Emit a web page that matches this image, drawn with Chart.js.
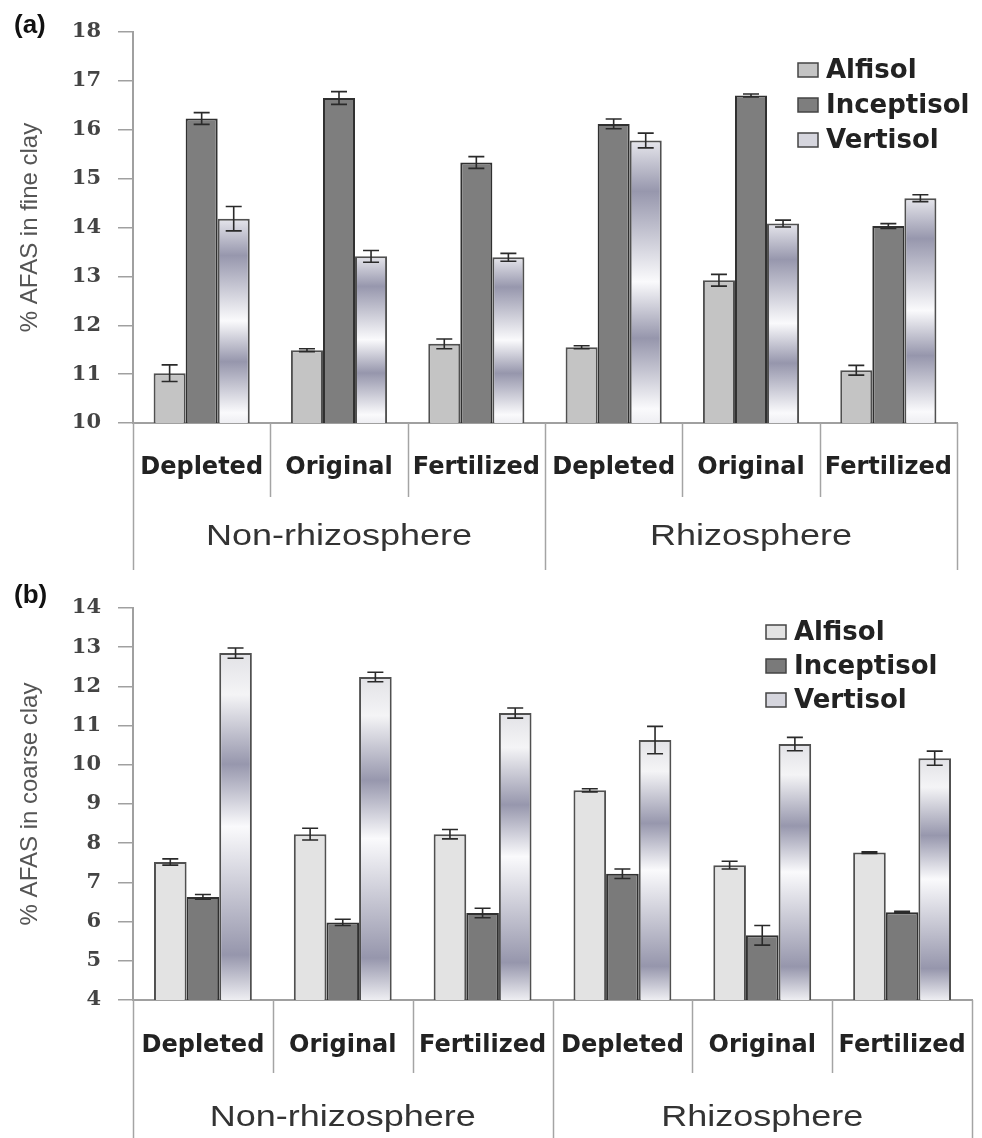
<!DOCTYPE html>
<html>
<head>
<meta charset="utf-8">
<script src="https://cdn.jsdelivr.net/npm/chart.js@4.4.0/dist/chart.umd.min.js"></script>
<style>
    body { margin: 0; background: #fff; }
    .panel { position: absolute; left: 0; width: 982px; }
    #wrapA { top: 0; height: 570px; }
    #wrapB { top: 570px; height: 568px; }
</style>
</head>
<body>
<div class="panel" id="wrapA"><canvas id="chartA"></canvas></div>
<div class="panel" id="wrapB"><canvas id="chartB"></canvas></div>
<script>
// data
const categories = ['Depleted', 'Original', 'Fertilized', 'Depleted', 'Original', 'Fertilized'];
const groups = ['Non-rhizosphere', 'Rhizosphere'];
const seriesNames = ['Alfisol', 'Inceptisol', 'Vertisol'];

const fineTicks = {min: 10, max: 18, step: 1};
const fineAlfisol = [11.02, 11.49, 11.62, 11.55, 12.92, 11.08];
const fineInceptisol = [16.23, 16.65, 15.33, 16.12, 16.70, 14.03];
const fineVertisol = [14.18, 13.41, 13.39, 15.78, 14.08, 14.60];
const fineAlfisolErr = [0.17, 0.03, 0.10, 0.03, 0.12, 0.10];
const fineInceptisolErr = [0.12, 0.13, 0.12, 0.10, 0.03, 0.05];
const fineVertisolErr = [0.25, 0.12, 0.08, 0.15, 0.07, 0.07];

const coarseTicks = {min: 4, max: 14, step: 1};
const coarseAlfisol = [7.52, 8.23, 8.23, 9.35, 7.44, 7.76];
const coarseInceptisol = [6.63, 5.98, 6.22, 7.22, 5.65, 6.24];
const coarseVertisol = [12.85, 12.24, 11.32, 10.63, 10.53, 10.17];
const coarseAlfisolErr = [0.08, 0.15, 0.12, 0.04, 0.10, 0.02];
const coarseInceptisolErr = [0.06, 0.08, 0.12, 0.12, 0.25, 0.02];
const coarseVertisolErr = [0.13, 0.12, 0.13, 0.35, 0.17, 0.18];

const groupSize = 3;

// banded silver fill used for the Vertisol bars
function ribbon(stops) {
    return function (c) {
        const chart = c.chart;
        if (!chart.chartArea || c.type !== 'data') return '#eeeef2';
        const y = chart.scales.y;
        const top = y.getPixelForValue(c.parsed.y);
        const bottom = y.getPixelForValue(y.min);
        const g = chart.ctx.createLinearGradient(0, top, 0, bottom);
        stops.forEach(s => g.addColorStop(s[0], s[1]));
        return g;
    };
}

const decorPlugin = {
    id: 'decor',
    afterDatasetsDraw(chart) {
        const ctx = chart.ctx;
        const y = chart.scales.y;
        chart.data.datasets.forEach((ds, i) => {
            chart.getDatasetMeta(i).data.forEach((bar, j) => {
                const v = ds.data[j], e = ds.errors[j];
                const yt = y.getPixelForValue(v + e), yb = y.getPixelForValue(v - e);
                ctx.save();
                ctx.strokeStyle = '#2a2a2a';
                ctx.lineWidth = 1.6;
                ctx.beginPath();
                ctx.moveTo(bar.x, yt); ctx.lineTo(bar.x, yb);
                ctx.moveTo(bar.x - 8, yt); ctx.lineTo(bar.x + 8, yt);
                ctx.moveTo(bar.x - 8, yb); ctx.lineTo(bar.x + 8, yb);
                ctx.stroke();
                ctx.restore();
            });
        });
    },
    afterDraw(chart, args, opts) {
        const ctx = chart.ctx;
        const x = chart.scales.x;
        const base = chart.chartArea.bottom;
        const step = (x.right - x.left) / categories.length;

        ctx.save();
        ctx.strokeStyle = '#a4a4a4';
        ctx.lineWidth = 1.5;
        for (let i = 0; i <= categories.length; i++) {
            const px = Math.round(x.left + i * step) + 0.5;
            ctx.beginPath();
            ctx.moveTo(px, base);
            ctx.lineTo(px, i % groupSize === 0 ? opts.groupBottom : opts.sepBottom);
            ctx.stroke();
        }

        ctx.fillStyle = '#333';
        ctx.font = '30px "Liberation Sans", Arial, sans-serif';
        ctx.textAlign = 'center';
        ctx.textBaseline = 'middle';
        groups.forEach((g, k) => {
            const cx = x.left + (k * groupSize + groupSize / 2) * step;
            ctx.save();
            ctx.translate(cx, opts.groupY);
            ctx.scale(1.2, 1);
            ctx.fillText(g, 0, 0);
            ctx.restore();
        });

        // legend
        ctx.font = 'bold 26px "DejaVu Sans", sans-serif';
        ctx.textAlign = 'left';
        chart.data.datasets.forEach((ds, i) => {
            const ly = opts.legendY + i * opts.legendStep;
            ctx.fillStyle = ds.legendFill;
            ctx.fillRect(opts.legendX, ly - 7, 20, 14);
            ctx.strokeStyle = '#444';
            ctx.lineWidth = 1.5;
            ctx.strokeRect(opts.legendX, ly - 7, 20, 14);
            ctx.fillStyle = '#222';
            ctx.fillText(ds.label, opts.legendX + 28, ly + 1);
        });

        // panel letter
        ctx.font = 'bold 26px "Liberation Sans", Arial, sans-serif';
        ctx.fillStyle = '#111';
        ctx.fillText(opts.panel, 14, opts.panelY);
        ctx.restore();
    }
};

function makeChart(id, cfg) {
    return new Chart(document.getElementById(id), {
        type: 'bar',
        data: {
            labels: categories,
            datasets: [
                {
                    label: seriesNames[0], data: cfg.values[0], errors: cfg.errors[0],
                    backgroundColor: cfg.alfisolColor, legendFill: cfg.alfisolColor,
                    borderColor: '#505050', borderWidth: 2
                },
                {
                    label: seriesNames[1], data: cfg.values[1], errors: cfg.errors[1],
                    backgroundColor: cfg.inceptisolColor, legendFill: cfg.inceptisolColor,
                    borderColor: '#303030', borderWidth: 2
                },
                {
                    label: seriesNames[2], data: cfg.values[2], errors: cfg.errors[2],
                    backgroundColor: ribbon(cfg.stops), legendFill: '#d6d6de',
                    borderColor: '#505050', borderWidth: 2
                }
            ]
        },
        options: {
            responsive: true,
            maintainAspectRatio: false,
            animation: false,
            categoryPercentage: 0.7,
            barPercentage: 1.0,
            layout: {padding: {top: cfg.top, right: cfg.right, left: 0, bottom: 0}},
            plugins: {
                legend: {display: false},
                tooltip: {enabled: false},
                decor: cfg.decor
            },
            scales: {
                x: {
                    grid: {display: false, drawTicks: false},
                    border: {display: true, color: '#a0a0a0', width: 2},
                    ticks: {
                        color: '#222', padding: 0, maxRotation: 0, autoSkip: false,
                        // tall line box pushes the label row down below the axis
                        font: {family: '"DejaVu Sans", sans-serif', size: 24, weight: 'bold', lineHeight: cfg.labelLine}
                    },
                    afterFit: s => { s.height = cfg.xHeight; }
                },
                y: {
                    min: cfg.ticks.min, max: cfg.ticks.max,
                    grid: {display: true, drawOnChartArea: false, drawTicks: true, tickLength: 15, color: '#a0a0a0', lineWidth: 1.5},
                    border: {display: true, color: '#a0a0a0', width: 2},
                    ticks: {
                        stepSize: cfg.ticks.step, color: '#444', padding: 17,
                        font: {family: '"DejaVu Serif", serif', size: 21, weight: 'bold'}
                    },
                    title: {
                        display: true, text: cfg.title, color: '#555',
                        font: {family: '"Liberation Sans", Arial, sans-serif', size: 24},
                        padding: {top: 16, bottom: 0}
                    },
                    afterFit: s => { s.width = 133; }
                }
            }
        },
        plugins: [decorPlugin]
    });
}

makeChart('chartA', {
    values: [fineAlfisol, fineInceptisol, fineVertisol],
    errors: [fineAlfisolErr, fineInceptisolErr, fineVertisolErr],
    ticks: fineTicks,
    title: '% AFAS in fine clay',
    alfisolColor: '#c4c4c4',
    inceptisolColor: '#7e7e7e',
    stops: [[0, '#e6e6ec'], [0.18, '#9797ad'], [0.5, '#fafafc'], [0.7, '#9696ac'], [0.95, '#fafafc'], [1, '#eeeef2']],
    top: 32, right: 25, xHeight: 147, labelLine: '90px',
    decor: {sepBottom: 497, groupBottom: 570, groupY: 537, legendX: 798, legendY: 70, legendStep: 35, panel: '(a)', panelY: 26}
});

makeChart('chartB', {
    values: [coarseAlfisol, coarseInceptisol, coarseVertisol],
    errors: [coarseAlfisolErr, coarseInceptisolErr, coarseVertisolErr],
    ticks: coarseTicks,
    title: '% AFAS in coarse clay',
    alfisolColor: '#e3e3e3',
    inceptisolColor: '#7a7a7a',
    stops: [[0, '#e2e2e6'], [0.12, '#f4f4f6'], [0.32, '#9797ad'], [0.5, '#fafafc'], [0.87, '#9696ac'], [1, '#eeeef2']],
    top: 38, right: 10, xHeight: 138, labelLine: '92px',
    decor: {sepBottom: 503, groupBottom: 568, groupY: 548, legendX: 766, legendY: 62, legendStep: 34, panel: '(b)', panelY: 26}
});
</script>
</body>
</html>
